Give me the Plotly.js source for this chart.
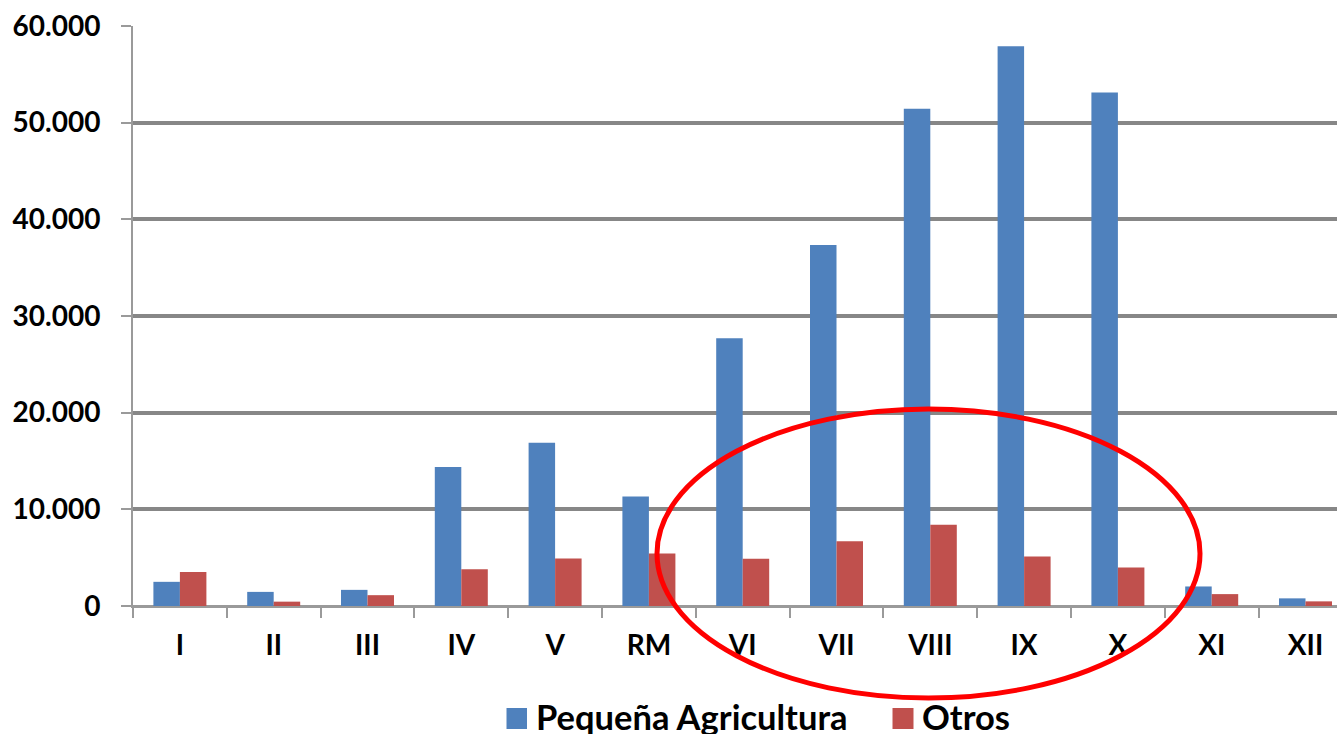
<!DOCTYPE html>
<html>
<head>
<meta charset="utf-8">
<script src="https://cdn.plot.ly/plotly-3.0.1.min.js"></script>
<style>
  html, body { margin: 0; padding: 0; background: #fff; }
  #chart { width: 1337px; height: 734px; }
</style>
</head>
<body>
<div id="chart"></div>
<script>
// Regions
var regions = ["I", "II", "III", "IV", "V", "RM", "VI", "VII", "VIII", "IX", "X", "XI", "XII"];
// Series values
var pequenaAgricultura = [2500, 1460, 1670, 14390, 16900, 11320, 27700, 37340, 51430, 57900, 53130, 2020, 790];
var otros = [3520, 450, 1120, 3800, 4910, 5440, 4880, 6710, 8410, 5120, 3970, 1230, 480];
// Series names
var seriesNames = ["Pequeña Agricultura", "Otros"];
var seriesColors = ["#4F81BD", "#C0504D"];
// Y tick values
var yTicks = [0, 10000, 20000, 30000, 40000, 50000, 60000];

var fontFam = "Lato, 'Open Sans', sans-serif";

var traces = [
  {
    type: "bar", x: regions, y: pequenaAgricultura, name: seriesNames[0],
    marker: { color: seriesColors[0], line: { width: 0 } }, hoverinfo: "x+y"
  },
  {
    type: "bar", x: regions, y: otros, name: seriesNames[1],
    marker: { color: seriesColors[1], line: { width: 0 } }, hoverinfo: "x+y"
  }
];

// plot area in pixels: x 133..1337, y 26..606
var L = 133, R = 1337, T = 26, B = 606;
var catWidth = 93.8; // pixels per category (chart is cut at the right edge)
function px(x) { return (x - L) / (R - L); }
function py(y) { return (B - y) / (B - T); }

var layout = {
  width: 1337, height: 734,
  margin: { l: L, r: 1337 - R, t: T, b: 734 - B, pad: 0 },
  paper_bgcolor: "#ffffff", plot_bgcolor: "#ffffff",
  separators: ",.",
  barmode: "group", bargap: 0.435, bargroupgap: 0,
  showlegend: false,
  font: { family: fontFam, color: "#000000" },
  xaxis: {
    type: "category",
    range: [-0.5, -0.5 + (R - L) / catWidth],
    showline: true, linecolor: "#9a9a9a", linewidth: 2,
    ticks: "outside", tickson: "boundaries", ticklen: 10, tickwidth: 2, tickcolor: "#9a9a9a",
    tickfont: { family: fontFam, size: 28, weight: "bold", color: "#000" },
    ticklabelstandoff: 13,
    showgrid: false, zeroline: false, fixedrange: true
  },
  yaxis: {
    range: [0, 60000], tickvals: yTicks, tickformat: ",d",
    showline: true, linecolor: "#9a9a9a", linewidth: 2,
    ticks: "outside", ticklen: 10, tickwidth: 2, tickcolor: "#9a9a9a",
    tickfont: { family: fontFam, size: 28, weight: "bold", color: "#000" },
    ticklabelstandoff: 15,
    showgrid: true, gridcolor: "#878787", gridwidth: 4,
    zeroline: true, zerolinecolor: "#9a9a9a", zerolinewidth: 2,
    fixedrange: true
  },
  shapes: [
    // red highlight ellipse
    {
      type: "circle", xref: "paper", yref: "paper",
      x0: px(657), x1: px(1200), y0: py(698), y1: py(409),
      line: { color: "#FF0000", width: 5 }, fillcolor: "rgba(0,0,0,0)", layer: "above"
    },
    // legend swatches
    {
      type: "rect", xref: "paper", yref: "paper",
      x0: px(506.5), x1: px(527), y0: py(729), y1: py(708),
      line: { width: 0 }, fillcolor: seriesColors[0]
    },
    {
      type: "rect", xref: "paper", yref: "paper",
      x0: px(892.5), x1: px(913.5), y0: py(729), y1: py(708),
      line: { width: 0 }, fillcolor: seriesColors[1]
    }
  ],
  annotations: [
    {
      xref: "paper", yref: "paper", x: px(534), y: py(716), xanchor: "left", yanchor: "middle",
      text: seriesNames[0], showarrow: false,
      font: { family: fontFam, size: 34.5, weight: "bold", color: "#000" }
    },
    {
      xref: "paper", yref: "paper", x: px(920), y: py(716), xanchor: "left", yanchor: "middle",
      text: seriesNames[1], showarrow: false,
      font: { family: fontFam, size: 34.5, weight: "bold", color: "#000" }
    }
  ]
};

Plotly.newPlot("chart", traces, layout, { staticPlot: true, displayModeBar: false });
</script>
</body>
</html>
